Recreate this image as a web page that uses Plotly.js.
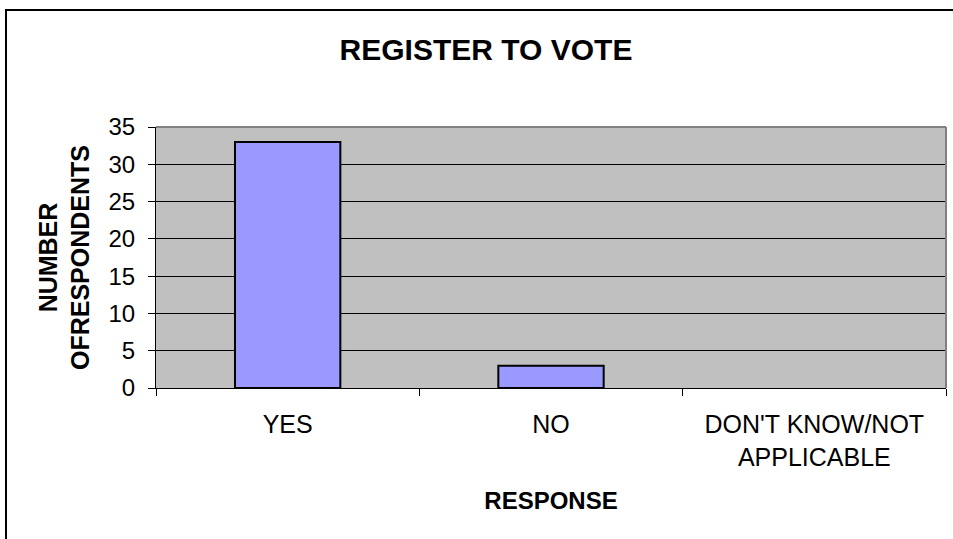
<!DOCTYPE html>
<html>
<head>
<meta charset="utf-8">
<script src="https://cdn.plot.ly/plotly-3.0.1.min.js"></script>
<style>
html,body{margin:0;padding:0;background:#fff;}
#wrap{position:relative;width:953px;height:539px;}
#chart{width:953px;height:539px;}
#frame{position:absolute;left:5px;top:9px;width:960px;height:540px;border-left:2px solid #000;border-top:2px solid #000;pointer-events:none;}
</style>
</head>
<body>
<div id="wrap"><div id="chart"></div><div id="frame"></div></div>
<script>
const categories = ["YES", "NO", "DON'T KNOW/NOT<br>APPLICABLE"];
const respondents = [33, 3, 0];
const yTickValues = [0, 5, 10, 15, 20, 25, 30, 35];

const trace = {
  type: 'bar',
  x: categories,
  y: respondents,
  marker: {color: '#9999ff', line: {color: '#000000', width: respondents.map(v => v > 0 ? 2 : 0)}},
  hoverinfo: 'x+y'
};

const layout = {
  width: 953, height: 539,
  margin: {l: 156, r: 7, t: 127, b: 151},
  paper_bgcolor: '#ffffff',
  plot_bgcolor: '#c0c0c0',
  bargap: 0.6,
  showlegend: false,
  font: {family: 'Liberation Sans, Arial, sans-serif', color: '#000'},
  title: {text: '<b>REGISTER TO VOTE</b>', font: {size: 30, color: '#000'}, x: 0.51, xanchor: 'center', y: 0.908, yanchor: 'middle'},
  xaxis: {
    type: 'category',
    tickson: 'boundaries',
    ticks: 'outside', ticklen: 7, tickcolor: '#000', tickwidth: 1,
    showline: true, linecolor: '#000', linewidth: 1,
    showgrid: false,
    tickfont: {size: 25},
    ticklabelstandoff: 14,
    title: {text: '<b>RESPONSE</b>', font: {size: 24}, standoff: 22},
    automargin: false
  },
  yaxis: {
    range: [0, 35],
    tickvals: yTickValues,
    ticks: 'outside', ticklen: 7, tickcolor: '#000', tickwidth: 1,
    showline: true, linecolor: '#000', linewidth: 1,
    showgrid: true, gridcolor: '#000', gridwidth: 1,
    zeroline: false,
    tickfont: {size: 24},
    ticklabelstandoff: 8,
    title: {text: '<b>NUMBER<br>OFRESPONDENTS</b>', font: {size: 25}, standoff: 11},
    automargin: false
  },
  shapes: [
    {type: 'line', xref: 'paper', yref: 'paper', x0: 0, x1: 1, y0: 1, y1: 1, line: {color: '#808080', width: 2}},
    {type: 'line', xref: 'paper', yref: 'paper', x0: 1, x1: 1, y0: 0, y1: 1, line: {color: '#808080', width: 2}}
  ]
};

Plotly.newPlot('chart', [trace], layout, {displayModeBar: false, staticPlot: true});
</script>
</body>
</html>
